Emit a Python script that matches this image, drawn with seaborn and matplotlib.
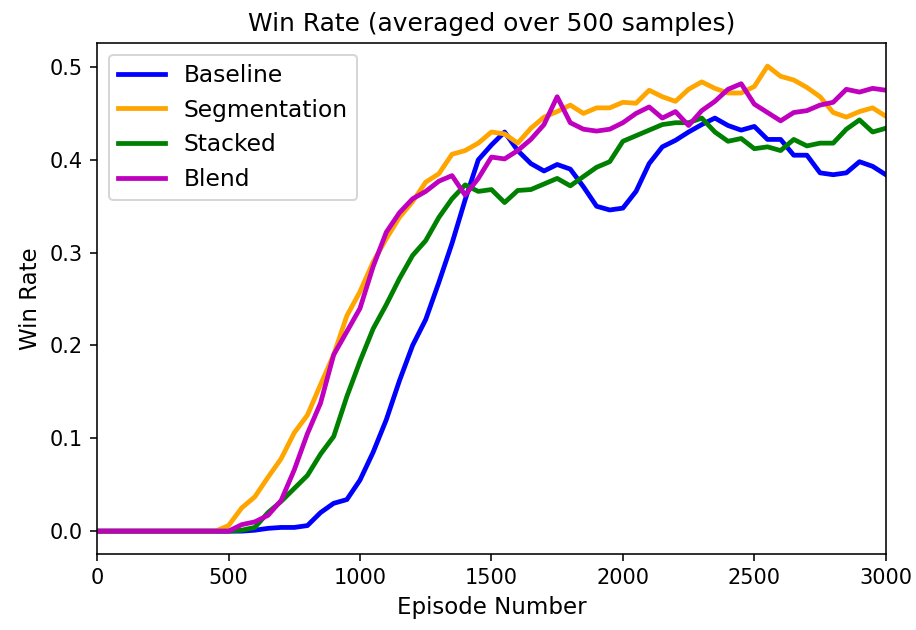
import numpy as np
import pandas as pd
import matplotlib
matplotlib.use("Agg")
import matplotlib.pyplot as plt
import seaborn as sns

# Episode grid (every 50 episodes)
episodes = np.arange(0, 3001, 50)

flat_start = [0.0] * 10  # episodes 0-450

baseline = flat_start + [
    0.0, 0.0, 0.001, 0.003, 0.004, 0.004, 0.006, 0.02, 0.03, 0.034,
    0.055, 0.085, 0.12, 0.162, 0.2, 0.228, 0.268, 0.31, 0.357, 0.4,
    0.416, 0.43, 0.41, 0.396, 0.388, 0.395, 0.39, 0.371, 0.35, 0.346,
    0.348, 0.366, 0.396, 0.414, 0.421, 0.43, 0.438, 0.445, 0.437, 0.432,
    0.436, 0.422, 0.422, 0.405, 0.405, 0.386, 0.384, 0.386, 0.398, 0.393,
    0.384,
]

segmentation = flat_start + [
    0.006, 0.025, 0.037, 0.058, 0.078, 0.106, 0.125, 0.158, 0.19, 0.232,
    0.258, 0.29, 0.315, 0.338, 0.355, 0.376, 0.385, 0.406, 0.41, 0.418,
    0.43, 0.428, 0.418, 0.434, 0.446, 0.452, 0.459, 0.45, 0.456, 0.456,
    0.462, 0.461, 0.475, 0.468, 0.463, 0.476, 0.484, 0.477, 0.472, 0.472,
    0.479, 0.501, 0.49, 0.486, 0.478, 0.468, 0.451, 0.446, 0.452, 0.456,
    0.447,
]

stacked = flat_start + [
    0.0, 0.001, 0.004, 0.02, 0.032, 0.046, 0.06, 0.083, 0.102, 0.145,
    0.183, 0.218, 0.244, 0.272, 0.297, 0.313, 0.338, 0.358, 0.373, 0.366,
    0.368, 0.354, 0.367, 0.368, 0.374, 0.38, 0.372, 0.382, 0.392, 0.398,
    0.42, 0.426, 0.432, 0.438, 0.44, 0.44, 0.445, 0.43, 0.42, 0.423,
    0.412, 0.414, 0.41, 0.422, 0.415, 0.418, 0.418, 0.433, 0.443, 0.43,
    0.434,
]

blend = flat_start + [
    0.0, 0.007, 0.01, 0.017, 0.033, 0.066, 0.105, 0.138, 0.19, 0.215,
    0.24, 0.285, 0.322, 0.343, 0.358, 0.366, 0.377, 0.383, 0.362, 0.38,
    0.403, 0.401, 0.41, 0.422, 0.438, 0.468, 0.44, 0.433, 0.431, 0.433,
    0.44, 0.45, 0.457, 0.445, 0.452, 0.437, 0.453, 0.463, 0.476, 0.482,
    0.46, 0.451, 0.442, 0.451, 0.453, 0.459, 0.462, 0.476, 0.473, 0.477,
    0.475,
]

methods = ["Baseline", "Segmentation", "Stacked", "Blend"]
series = [baseline, segmentation, stacked, blend]
colors = {"Baseline": "blue", "Segmentation": "orange",
          "Stacked": "green", "Blend": "m"}

df = pd.concat(
    [pd.DataFrame({"Episode": episodes, "WinRate": vals, "Method": name})
     for name, vals in zip(methods, series)],
    ignore_index=True,
)

fig, ax = plt.subplots(figsize=(916 / 143, 630 / 143), dpi=143)
fig.subplots_adjust(left=0.106, right=0.967, top=0.932, bottom=0.12)

sns.lineplot(data=df, x="Episode", y="WinRate", hue="Method",
             hue_order=methods, palette=colors, linewidth=2.4,
             errorbar=None, ax=ax)

ax.set_xlim(0, 3000)
ax.set_title("Win Rate (averaged over 500 samples)", fontsize=12.5)
ax.set_xlabel("Episode Number", fontsize=11.5)
ax.set_ylabel("Win Rate", fontsize=11.5)
ax.tick_params(labelsize=10.5)
handles, labels = ax.get_legend_handles_labels()
ax.legend(handles, labels, loc="upper left", fontsize=11.8)

fig.savefig("out.png", dpi=143)
